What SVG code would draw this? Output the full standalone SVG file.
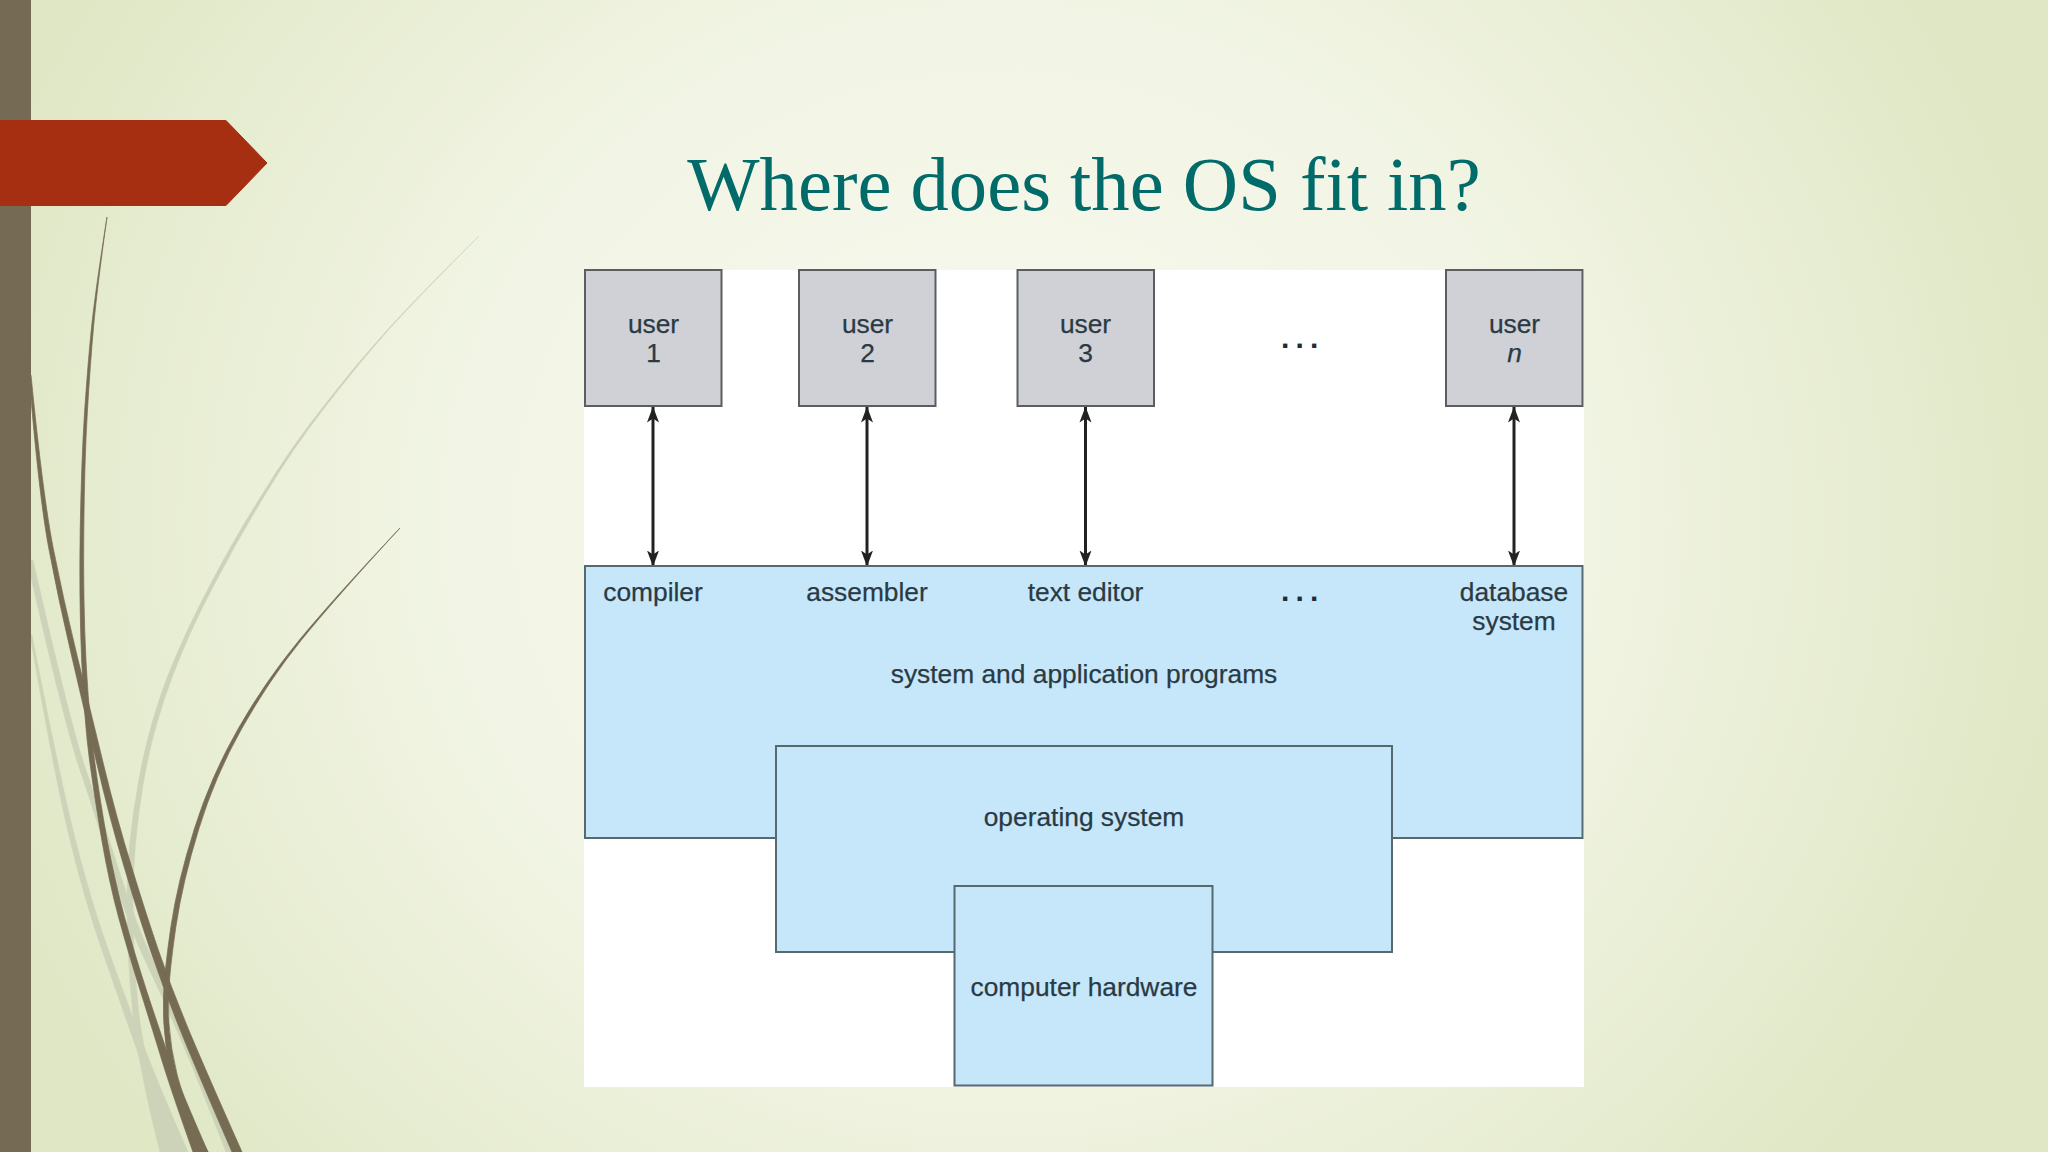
<svg xmlns="http://www.w3.org/2000/svg" width="2048" height="1152" viewBox="0 0 2048 1152">
<style>
.t{font-family:"Liberation Sans",Arial,sans-serif;font-size:26.35px;fill:#2a3a44;stroke:#2a3a44;stroke-width:.25;text-anchor:middle}
.u{fill:#cfd1d6;stroke:#5a5e60;stroke-width:2}
.b{fill:#c6e7f9;stroke:#55696f;stroke-width:2}
.d{fill:#766c54;stroke:#766c54;stroke-width:.7}
.l{fill:#cdd3b8;stroke:#cdd3b8;stroke-width:.5}
.a{stroke:#222;stroke-width:3;fill:none;marker-start:url(#h);marker-end:url(#h)}
.dots{font-family:"Liberation Sans",Arial,sans-serif;font-size:30px;font-weight:bold;letter-spacing:6.2px;fill:#1f2d38}
</style>
<defs>
<radialGradient id="bg" gradientUnits="userSpaceOnUse" cx="0" cy="0" r="1" gradientTransform="translate(1000 520) scale(1080 1000)">
<stop offset="0" stop-color="#f7f9ee"/><stop offset=".5" stop-color="#f2f5e5"/><stop offset=".8" stop-color="#e7edd2"/><stop offset="1" stop-color="#dfe7c5"/>
</radialGradient>
<marker id="h" viewBox="0 0 16 14" refX="15.5" refY="7" markerUnits="userSpaceOnUse" markerWidth="16" markerHeight="14" orient="auto-start-reverse"><path d="M0 1L16 7L0 13L4 7Z" fill="#222"/></marker>
</defs>
<rect id="background" width="2048" height="1152" fill="url(#bg)"/>
<g id="decor">
<path class="l" d="M33 560 Q70 723 85 767 Q100 811 118.5 869 Q137 927 154 962.5 Q171 998 187.5 1036.5 Q204 1075 234 1152 L226 1152 Q196 1075 179.5 1036.5 Q163 998 146 962.5 Q129 927 111.5 869 Q94 811 79 767 Q64 723 27 560 Z"/>
<path class="l" d="M32 635 Q59.5 776 74.8 837.5 Q90 899 110.3 955.5 Q130.5 1012 146.3 1052.5 Q162 1093 188 1152 L170 1152 Q152 1093 137.8 1052.5 Q123.5 1012 103.8 955.5 Q84 899 69.3 837.5 Q54.5 776 30 635 Z"/>
<path class="l" d="M479 236 Q425 290 391 327 Q358 364 325 407 Q292 450 268 490 Q240 535 214 585 Q190 630 173 675 Q152 730 143 785 Q133 845 133 900 Q133 960 139 1015 Q146 1070 172 1152 L160 1152 Q139 1070 133 1015 Q127 960 127 900 Q127 845 138 785 Q147 730 168 675 Q186 630 210 585 Q236 535 265 490 Q289 450 323 407 Q356 364 390 327 Q424 290 479 236 Z"/>
<path class="d" d="M107 217 Q96.7 291 93.5 327.5 Q90.2 364 87.4 411.5 Q84.5 459 83.8 529.5 Q83 600 86 661 Q89.5 723 94.5 760 Q99.5 797 107 839.5 Q115 882 124.5 917 Q134 952 147 992 Q160.5 1033 171 1063 Q182 1093 208 1152 L193 1152 Q172 1093 162.7 1063 Q153.5 1033 140.7 992 Q128 952 118.5 917 Q109 882 101.7 839.5 Q94.5 797 89.5 760 Q84.5 723 81.7 661 Q79 600 80.2 529.5 Q81.5 459 84.6 411.5 Q87.8 364 91.5 327.5 Q95.3 291 107 217 Z"/>
<path class="d" d="M31 375 Q43 497 53.3 548.5 Q63.5 600 76.8 654.5 Q90 709 103.3 763.5 Q116.5 818 131.8 867.5 Q147 917 159 952 Q171 987 186.3 1024 Q201.5 1061 242 1152 L232 1152 Q192.5 1061 177.8 1024 Q163 987 151 952 Q139 917 124.3 867.5 Q109.5 818 96.8 763.5 Q84 709 71.3 654.5 Q58.5 600 48.8 548.5 Q39 497 29 375 Z"/>
<path class="d" d="M400 528 Q333.8 600 301 640.5 Q268.5 681 241.8 728.5 Q215 776 198.8 829 Q182.5 882 176 926 Q169.5 970 168.5 996 Q167.5 1022 171.8 1048.5 Q176 1075 185 1101.5 Q194 1128 208 1152 L196 1152 Q186 1128 178 1101.5 Q170 1075 166.3 1048.5 Q162.5 1022 163.5 996 Q164.5 970 171 926 Q177.5 882 194.3 829 Q211 776 238.3 728.5 Q265.5 681 298.9 640.5 Q332.2 600 400 528 Z"/>
<rect x="0" y="0" width="31" height="1152" fill="#756a54"/>
<path d="M0 120.5H226L267 163L226 205.5H0Z" fill="#a52f10" stroke="#a52f10" stroke-width="1" stroke-linejoin="round"/>
</g>
<text id="title" x="1084" y="210" font-family="Liberation Serif,Times New Roman,serif" font-size="76.6" fill="#006b69" text-anchor="middle">Where does the OS fit in?</text>
<rect id="panel" x="584" y="270" width="1000" height="817" fill="#fff"/>
<g id="connectors">
<line class="a" x1="653" y1="407" x2="653" y2="566"/>
<line class="a" x1="867" y1="407" x2="867" y2="566"/>
<line class="a" x1="1085.500" y1="407" x2="1085.500" y2="566"/>
<line class="a" x1="1514" y1="407" x2="1514" y2="566"/>
</g>
<g id="user1"><rect class="u" x="585" y="270" width="136.500" height="136"/><text class="t" x="653.5" y="333">user</text><text class="t" x="653.5" y="362">1</text></g>
<g id="user2"><rect class="u" x="799" y="270" width="136.500" height="136"/><text class="t" x="867.5" y="333">user</text><text class="t" x="867.5" y="362">2</text></g>
<g id="user3"><rect class="u" x="1017.500" y="270" width="136.500" height="136"/><text class="t" x="1085.5" y="333">user</text><text class="t" x="1085.5" y="362">3</text></g>
<g id="usern"><rect class="u" x="1446" y="270" width="136.500" height="136"/><text class="t" x="1514.5" y="333">user</text><text class="t" x="1514.5" y="362" font-style="italic">n</text></g>
<text id="dots-top" class="dots" x="1281" y="348">...</text>
<g id="programs"><rect class="b" x="585" y="566" width="997.500" height="272"/>
<text class="t" x="653" y="601">compiler</text><text class="t" x="867" y="601">assembler</text><text class="t" x="1085.5" y="601">text editor</text><text class="t" x="1514" y="601">database</text><text class="t" x="1514" y="630">system</text><text class="t" x="1084" y="683">system and application programs</text>
<text class="dots" x="1281" y="601">...</text></g>
<g id="os"><rect class="b" x="776" y="746" width="616" height="206"/><text class="t" x="1084" y="826">operating system</text></g>
<g id="hardware"><rect class="b" x="954.5" y="886" width="258" height="199.500"/><text class="t" x="1084" y="996">computer hardware</text></g>
</svg>
